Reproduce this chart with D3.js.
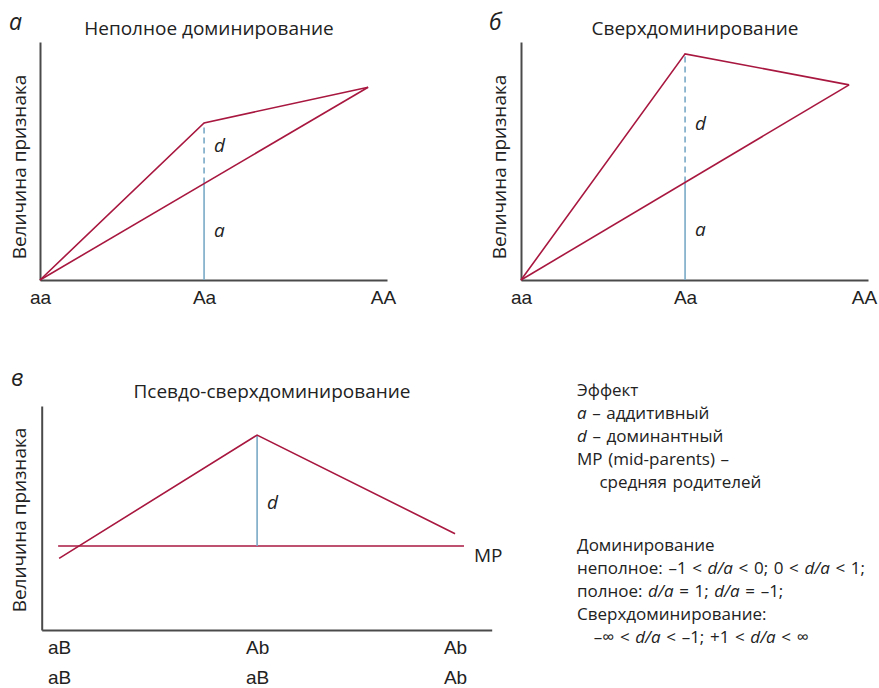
<!DOCTYPE html>
<html>
<head>
<meta charset="utf-8">
<script src="https://cdn.jsdelivr.net/npm/d3@7"></script>
<style>
  body { margin: 0; background: #fff; }
  svg { display: block; font-family: "Open Sans", "Noto Sans", sans-serif; }
</style>
</head>
<body>
<svg id="chart" width="879" height="688"></svg>
<script>
// genotypes and trait values (0..100 of the axis height)
const genotypes = ["aa", "Aa", "AA"]
const genotypeTickPos = [0, 1, 2.09]
const incompleteValues = [0, 66, 81]
const overValues = [0, 95, 82]
const pseudoRow1 = ["aB", "Ab", "Ab"]
const pseudoRow2 = ["aB", "aB", "Ab"]
const pseudoValues = [32, 87, 43]

const titles = ["Неполное доминирование", "Сверхдоминирование", "Псевдо-сверхдоминирование"]
const panelLetters = ["а", "б", "в"]
const yLabel = "Величина признака"

// legend lines: [text, italic]
const legendEffect = [
  [["Эффект", false]],
  [["a", true], [" – аддитивный", false]],
  [["d", true], [" – доминантный", false]],
  [["MP (mid-parents) –", false]],
  [["\u00a0\u00a0\u00a0\u00a0средняя родителей", false]]
]
const legendDominance = [
  [["Доминирование", false]],
  [["неполное: –1 < ", false], ["d/a", true], [" < 0; 0 < ", false], ["d/a", true], [" < 1;", false]],
  [["полное: ", false], ["d/a", true], [" = 1; ", false], ["d/a", true], [" = –1;", false]],
  [["Сверхдоминирование:", false]],
  [["\u00a0\u00a0\u00a0–∞ < ", false], ["d/a", true], [" < –1; +1 < ", false], ["d/a", true], [" < ∞", false]]
]

const crimson = "#a8173f"
const blue = "#79a9c6"
const axisColor = "#4a4a4a"
const fontSize = 19
const legendSize = 17

const svg = d3.select("#chart")

function axes(g, x, y, tickFormat, tickPos) {
  g.append("g")
    .attr("transform", `translate(0,${y.range()[0]})`)
    .call(d3.axisBottom(x).tickValues(tickPos).tickSize(0).tickPadding(11).tickFormat((d, i) => tickFormat[i]))
    .call(a => a.select(".domain").attr("stroke", axisColor).attr("stroke-width", 2))
    .call(a => a.selectAll("text").attr("font-size", fontSize).attr("fill", "#222").attr("font-family", null))
  g.append("g")
    .attr("transform", `translate(${x.range()[0]},0)`)
    .call(d3.axisLeft(y).tickValues([]).tickSizeOuter(0))
    .call(a => a.select(".domain").attr("stroke", axisColor).attr("stroke-width", 2))
}

function labels(g, letter, lx, ly, title, tx, ty, ylx, yly) {
  g.append("text").attr("x", lx).attr("y", ly).attr("font-size", 23).attr("font-style", "italic")
    .attr("fill", "#222").text(letter)
  g.append("text").attr("x", tx).attr("y", ty).attr("font-size", fontSize).attr("text-anchor", "middle")
    .attr("fill", "#222").text(title)
  g.append("text").attr("transform", `translate(${ylx},${yly}) rotate(-90)`).attr("text-anchor", "middle")
    .attr("font-size", fontSize).attr("fill", "#222").text(yLabel)
}

function letterLabel(g, txt, x, y) {
  g.append("text").attr("x", x).attr("y", y).attr("font-size", fontSize).attr("font-style", "italic")
    .attr("fill", "#222").text(txt)
}

// panels а and б
function dominancePanel(values, ox, dShift) {
  const g = svg.append("g")
  const x = d3.scaleLinear().domain([0, 2.115]).range([ox, ox + 347])
  const y = d3.scaleLinear().domain([0, 100]).range([280, 42])
  const mid = (values[0] + values[2]) / 2
  axes(g, x, y, genotypes, genotypeTickPos)

  // blue: additive part solid, dominance part dashed
  g.append("line").attr("x1", x(1)).attr("x2", x(1)).attr("y1", y(0)).attr("y2", y(mid))
    .attr("stroke", blue).attr("stroke-width", 1.6)
  g.append("line").attr("x1", x(1)).attr("x2", x(1)).attr("y1", y(mid)).attr("y2", y(values[1]))
    .attr("stroke", blue).attr("stroke-width", 1.6).attr("stroke-dasharray", "6,4")

  const line = d3.line().x((d, i) => x(i)).y(d => y(d))
  g.append("path").attr("d", line(values)).attr("fill", "none").attr("stroke", crimson).attr("stroke-width", 1.6)
  g.append("line").attr("x1", x(0)).attr("y1", y(values[0])).attr("x2", x(2)).attr("y2", y(values[2]))
    .attr("stroke", crimson).attr("stroke-width", 1.6)

  letterLabel(g, "d", x(1) + 10, y((mid + values[1]) / 2) + dShift)
  letterLabel(g, "a", x(1) + 10, y(mid / 2) + 5)
  return { g, x, y }
}

const pa = dominancePanel(incompleteValues, 40, -1)
labels(pa.g, panelLetters[0], 9, 30, titles[0], 209, 35, 26, 167)
const pb = dominancePanel(overValues, 521, 12)
labels(pb.g, panelLetters[1], 489, 30, titles[1], 695, 35, 506, 167)

// panel в
{
  const g = svg.append("g")
  const x = d3.scaleLinear().domain([-0.088, 2.185]).range([41.7, 491.7])
  const y = d3.scaleLinear().domain([0, 100]).range([630, 406])
  const mp = (pseudoValues[0] + pseudoValues[2]) / 2
  axes(g, x, y, pseudoRow1, [0, 1, 2])
  g.append("g")
    .attr("transform", `translate(0,${y.range()[0] + 30})`)
    .call(d3.axisBottom(x).tickValues([0, 1, 2]).tickSize(0).tickPadding(11).tickFormat(i => pseudoRow2[i]))
    .call(a => a.select(".domain").remove())
    .call(a => a.selectAll("text").attr("font-size", fontSize).attr("fill", "#222").attr("font-family", null))

  g.append("line").attr("x1", x(-0.005)).attr("x2", x(2.045)).attr("y1", y(mp)).attr("y2", y(mp))
    .attr("stroke", crimson).attr("stroke-width", 1.6)
  g.append("line").attr("x1", x(1)).attr("x2", x(1)).attr("y1", y(mp)).attr("y2", y(pseudoValues[1]))
    .attr("stroke", blue).attr("stroke-width", 1.6)
  const line = d3.line().x((d, i) => x(i)).y(d => y(d))
  g.append("path").attr("d", line(pseudoValues)).attr("fill", "none").attr("stroke", crimson).attr("stroke-width", 1.6)

  letterLabel(g, "d", x(1) + 10, y((mp + pseudoValues[1]) / 2) + 18)
  g.append("text").attr("x", x(2.095)).attr("y", y(mp) + 16).attr("font-size", fontSize).attr("fill", "#222").text("MP")
  labels(g, panelLetters[2], 11, 386, titles[2], 272, 398, 26, 520)
}

// legend: one text element per line
function legend(lines, top) {
  lines.forEach((segs, i) => {
    const t = svg.append("text").attr("font-size", legendSize).attr("fill", "#222")
      .attr("x", 577).attr("y", top + i * 23).attr("word-spacing", 1.2)
    segs.forEach(s => t.append("tspan").text(s[0]).attr("font-style", s[1] ? "italic" : null))
  })
}
legend(legendEffect, 396)
legend(legendDominance, 551)
</script>
</body>
</html>
